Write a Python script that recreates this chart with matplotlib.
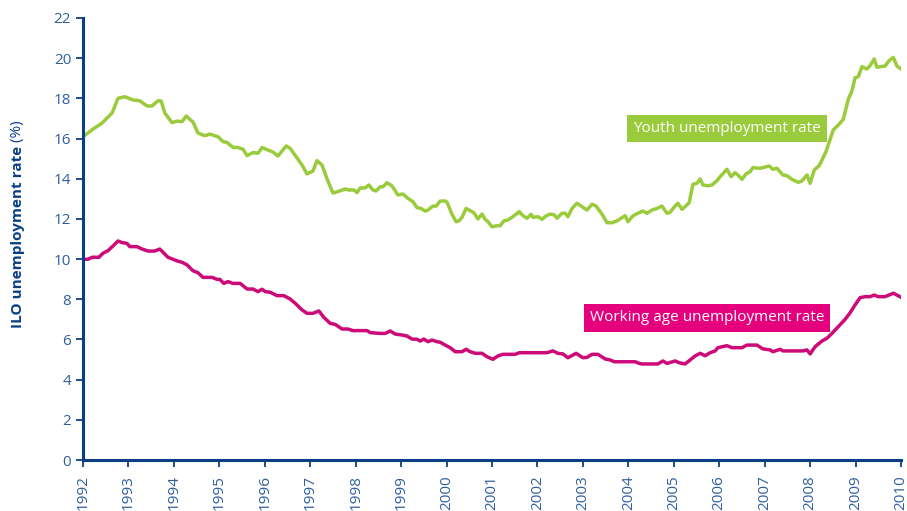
import matplotlib
matplotlib.use("Agg")
import matplotlib.pyplot as plt

# Youth unemployment rate (%)
youth_years = [
    1992.00, 1992.22, 1992.42, 1992.64, 1992.77, 1992.92, 1993.10, 1993.25, 1993.41, 1993.52,
    1993.65, 1993.72, 1993.80, 1993.96, 1994.07, 1994.18, 1994.27, 1994.42, 1994.53, 1994.68,
    1994.79, 1994.97, 1995.08, 1995.17, 1995.30, 1995.41, 1995.52, 1995.61, 1995.74, 1995.85,
    1995.94, 1996.07, 1996.18, 1996.29, 1996.47, 1996.56, 1996.71, 1996.82, 1996.93, 1997.06,
    1997.15, 1997.26, 1997.37, 1997.50, 1997.61, 1997.77, 1997.85, 1997.96, 1998.03, 1998.10,
    1998.21, 1998.29, 1998.38, 1998.45, 1998.54, 1998.60, 1998.69, 1998.80, 1998.93, 1999.04,
    1999.15, 1999.26, 1999.35, 1999.44, 1999.53, 1999.59, 1999.70, 1999.77, 1999.86, 1999.97,
    2000.01, 2000.12, 2000.21, 2000.27, 2000.34, 2000.43, 2000.52, 2000.60, 2000.69, 2000.78,
    2000.85, 2000.91, 2001.00, 2001.11, 2001.18, 2001.26, 2001.35, 2001.46, 2001.60, 2001.68,
    2001.77, 2001.86, 2001.90, 2002.01, 2002.10, 2002.19, 2002.28, 2002.37, 2002.43, 2002.54,
    2002.61, 2002.67, 2002.76, 2002.87, 2002.96, 2003.09, 2003.20, 2003.29, 2003.42, 2003.53,
    2003.64, 2003.75, 2003.93, 2003.99, 2004.10, 2004.21, 2004.32, 2004.41, 2004.52, 2004.63,
    2004.74, 2004.85, 2004.92, 2005.03, 2005.09, 2005.18, 2005.25, 2005.34, 2005.42, 2005.51,
    2005.58, 2005.64, 2005.75, 2005.84, 2005.95, 2006.02, 2006.17, 2006.26, 2006.35, 2006.41,
    2006.50, 2006.59, 2006.68, 2006.74, 2006.90, 2007.05, 2007.10, 2007.18, 2007.27, 2007.40,
    2007.49, 2007.60, 2007.74, 2007.82, 2007.93, 2008.00, 2008.09, 2008.20, 2008.26, 2008.35,
    2008.51, 2008.62, 2008.73, 2008.84, 2008.92, 2008.99, 2009.06, 2009.14, 2009.25, 2009.32,
    2009.41, 2009.47, 2009.65, 2009.74, 2009.83, 2009.91, 2010.00,
]
youth_rate = [
    16.09, 16.47, 16.77, 17.27, 18.00, 18.08, 17.92, 17.88, 17.62, 17.62,
    17.88, 17.87, 17.27, 16.79, 16.87, 16.84, 17.12, 16.82, 16.28, 16.14,
    16.22, 16.09, 15.85, 15.80, 15.56, 15.55, 15.47, 15.15, 15.30, 15.27,
    15.55, 15.43, 15.33, 15.13, 15.63, 15.51, 15.03, 14.68, 14.24, 14.38,
    14.90, 14.68, 13.99, 13.29, 13.36, 13.49, 13.44, 13.44, 13.31, 13.54,
    13.54, 13.69, 13.44, 13.39, 13.60, 13.60, 13.80, 13.64, 13.19, 13.24,
    13.02, 12.86, 12.56, 12.52, 12.39, 12.44, 12.64, 12.64, 12.89, 12.89,
    12.83, 12.23, 11.86, 11.90, 12.08, 12.52, 12.41, 12.31, 12.00, 12.24,
    11.98, 11.86, 11.61, 11.66, 11.66, 11.90, 11.95, 12.11, 12.36, 12.16,
    12.03, 12.23, 12.08, 12.11, 11.98, 12.15, 12.24, 12.20, 12.03, 12.28,
    12.28, 12.11, 12.52, 12.78, 12.64, 12.44, 12.73, 12.64, 12.24, 11.81,
    11.81, 11.90, 12.16, 11.86, 12.15, 12.28, 12.39, 12.28, 12.44, 12.52,
    12.64, 12.28, 12.33, 12.65, 12.78, 12.48, 12.61, 12.81, 13.72, 13.77,
    13.99, 13.69, 13.65, 13.69, 13.90, 14.10, 14.47, 14.10, 14.30, 14.19,
    13.97, 14.24, 14.35, 14.55, 14.52, 14.60, 14.63, 14.47, 14.52, 14.19,
    14.15, 13.97, 13.82, 13.89, 14.19, 13.77, 14.43, 14.65, 14.93, 15.35,
    16.43, 16.67, 16.96, 17.95, 18.37, 19.03, 19.08, 19.58, 19.46, 19.63,
    19.96, 19.55, 19.61, 19.88, 20.04, 19.61, 19.46,
]

# Working age unemployment rate (%)
work_years = [
    1992.00, 1992.11, 1992.20, 1992.35, 1992.44, 1992.55, 1992.66, 1992.77, 1992.86, 1992.97,
    1993.03, 1993.19, 1993.30, 1993.43, 1993.58, 1993.69, 1993.87, 1994.07, 1994.18, 1994.29,
    1994.42, 1994.53, 1994.64, 1994.84, 1994.95, 1995.01, 1995.10, 1995.19, 1995.30, 1995.46,
    1995.61, 1995.74, 1995.85, 1995.94, 1996.01, 1996.12, 1996.27, 1996.42, 1996.56, 1996.67,
    1996.82, 1996.93, 1997.06, 1997.19, 1997.30, 1997.44, 1997.55, 1997.70, 1997.83, 1997.94,
    1998.25, 1998.32, 1998.54, 1998.65, 1998.76, 1998.87, 1999.02, 1999.13, 1999.24, 1999.35,
    1999.42, 1999.50, 1999.59, 1999.68, 1999.79, 1999.86, 1999.97, 2000.08, 2000.19, 2000.34,
    2000.43, 2000.52, 2000.63, 2000.78, 2000.89, 2001.02, 2001.13, 2001.24, 2001.51, 2001.60,
    2002.21, 2002.34, 2002.45, 2002.56, 2002.67, 2002.85, 2003.00, 2003.09, 2003.20, 2003.33,
    2003.49, 2003.60, 2003.69, 2004.15, 2004.24, 2004.30, 2004.65, 2004.76, 2004.85, 2005.03,
    2005.12, 2005.25, 2005.36, 2005.47, 2005.58, 2005.69, 2005.80, 2005.91, 2005.97, 2006.17,
    2006.28, 2006.50, 2006.61, 2006.83, 2006.96, 2007.12, 2007.18, 2007.34, 2007.40, 2007.85,
    2007.93, 2008.00, 2008.11, 2008.26, 2008.37, 2008.48, 2008.62, 2008.77, 2008.88, 2008.99,
    2009.10, 2009.21, 2009.32, 2009.41, 2009.50, 2009.65, 2009.83, 2009.91, 2010.00,
]
work_rate = [
    9.99, 9.99, 10.09, 10.09, 10.29, 10.42, 10.65, 10.90, 10.82, 10.78,
    10.62, 10.62, 10.50, 10.40, 10.40, 10.50, 10.09, 9.91, 9.84, 9.71,
    9.42, 9.32, 9.09, 9.09, 8.99, 8.99, 8.79, 8.88, 8.79, 8.79,
    8.51, 8.51, 8.38, 8.50, 8.38, 8.35, 8.18, 8.18, 8.01, 7.80,
    7.47, 7.30, 7.30, 7.42, 7.10, 6.80, 6.75, 6.52, 6.52, 6.44,
    6.44, 6.34, 6.30, 6.30, 6.42, 6.27, 6.22, 6.17, 6.02, 6.01,
    5.92, 6.02, 5.89, 5.97, 5.89, 5.86, 5.72, 5.59, 5.39, 5.39,
    5.51, 5.39, 5.31, 5.31, 5.14, 5.01, 5.18, 5.26, 5.26, 5.34,
    5.34, 5.43, 5.31, 5.28, 5.09, 5.31, 5.09, 5.11, 5.26, 5.26,
    5.03, 4.98, 4.89, 4.89, 4.81, 4.78, 4.78, 4.93, 4.81, 4.93,
    4.84, 4.78, 4.98, 5.18, 5.31, 5.19, 5.34, 5.43, 5.59, 5.69,
    5.59, 5.59, 5.72, 5.72, 5.53, 5.48, 5.39, 5.51, 5.43, 5.43,
    5.48, 5.28, 5.64, 5.92, 6.06, 6.30, 6.64, 7.00, 7.33, 7.72,
    8.08, 8.13, 8.13, 8.21, 8.13, 8.13, 8.30, 8.21, 8.10,
]

year_ticks = list(range(1992, 2011))
rate_ticks = list(range(0, 23, 2))

navy = "#0b3f85"
tick_blue = "#2f5f9f"
green = "#9acb3c"
magenta = "#cc0a78"
magenta_box = "#e5007d"

plt.rcParams["font.family"] = ["Open Sans", "DejaVu Sans"]

fig = plt.figure(figsize=(9.07, 5.11), dpi=100)
ax = fig.add_axes([0.0915, 0.0998, 0.9019, 0.865])

ax.plot(youth_years, youth_rate, color=green, lw=2.5, solid_joinstyle="round")
ax.plot(work_years, work_rate, color=magenta, lw=2.5, solid_joinstyle="round")

ax.set_xlim(1992, 2010)
ax.set_ylim(0, 22)
ax.set_xticks(year_ticks)
ax.set_xticklabels([str(y) for y in year_ticks], rotation=90)
ax.set_yticks(rate_ticks)

for side in ["top", "right"]:
    ax.spines[side].set_visible(False)
for side in ["left", "bottom"]:
    ax.spines[side].set_color(navy)
    ax.spines[side].set_linewidth(2.2)
ax.tick_params(axis="both", colors=navy, labelcolor=tick_blue, direction="out",
               length=5, width=1.3, labelsize=11)
ax.tick_params(axis="x", pad=6, labelsize=11)

# series labels
ax.text(2006.17, 16.5, "Youth unemployment rate", color="white", fontsize=11,
        ha="center", va="center",
        bbox=dict(boxstyle="square,pad=0.4", fc=green, ec="none"))
ax.text(2005.73, 7.07, "Working age unemployment rate", color="white", fontsize=11,
        ha="center", va="center",
        bbox=dict(boxstyle="square,pad=0.4", fc=magenta_box, ec="none"))

# y label: bold part + normal "(%)"
lab = ax.text(-0.0795, 0.299, "ILO unemployment rate", transform=ax.transAxes,
              rotation=90, ha="center", va="bottom", fontsize=11,
              fontweight="bold", color=navy)
ax.annotate(" (%)", xy=(0.5, 1), xycoords=lab, rotation=90, ha="center",
            va="bottom", fontsize=11, color=navy)

fig.savefig("out.png", dpi=100)
